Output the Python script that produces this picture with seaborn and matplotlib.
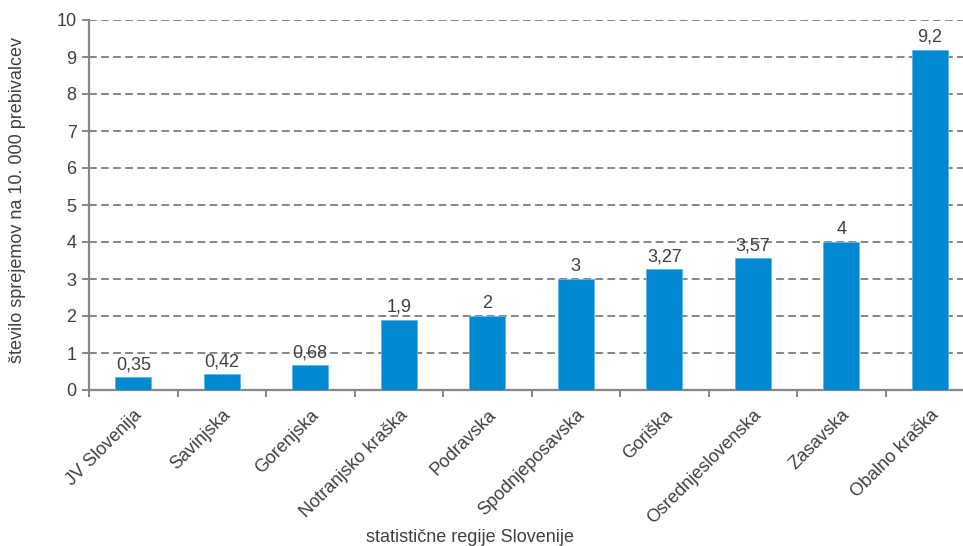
import matplotlib
matplotlib.use("Agg")
import matplotlib.pyplot as plt
from matplotlib.ticker import FixedLocator, NullFormatter
import seaborn as sns
import pandas as pd
import numpy as np

regions = ["JV Slovenija", "Savinjska", "Gorenjska", "Notranjsko kraška", "Podravska",
           "Spodnjeposavska", "Goriška", "Osrednjeslovenska", "Zasavska", "Obalno kraška"]
values = [0.35, 0.42, 0.68, 1.9, 2, 3, 3.27, 3.57, 4, 9.2]
value_labels = ["0,35", "0,42", "0,68", "1,9", "2", "3", "3,27", "3,57", "4", "9,2"]
y_ticks = list(range(0, 11))

sns.set_theme(style="white")
plt.rcParams["font.family"] = ["Liberation Sans", "DejaVu Sans"]

text_col = "#404040"
axis_col = "#868686"
bar_col = "#0089D0"
fs = 13

W, H = 963, 546
fig = plt.figure(figsize=(W / 100, H / 100), dpi=100)
ax = fig.add_axes([89 / W, 1 - 390 / H, (974 - 89) / W, (390 - 20) / H])

df = pd.DataFrame({"regija": regions, "vrednost": values})
sns.barplot(data=df, x="regija", y="vrednost", color=bar_col, saturation=1,
            width=0.41, ax=ax, edgecolor="#5DB8E8", linewidth=0.6, zorder=3)

ax.set_xlim(-0.5, len(regions) - 0.5)
ax.set_ylim(0, 10)
ax.set_yticks(y_ticks)
ax.set_yticklabels([str(t) for t in y_ticks], fontsize=fs, color=text_col)

# dashed horizontal gridlines
for t in y_ticks[1:]:
    ax.axhline(t, color=axis_col, linestyle=(0, (4, 2.2)), linewidth=1.4, zorder=1)

# category boundary ticks on x axis, labels centred under bars
ax.xaxis.set_major_locator(FixedLocator(np.arange(len(regions))))
ax.set_xticklabels(regions, rotation=45, ha="right", rotation_mode="anchor",
                   fontsize=fs, color=text_col)
ax.xaxis.set_minor_locator(FixedLocator(np.arange(len(regions) + 1) - 0.5))
ax.xaxis.set_minor_formatter(NullFormatter())
ax.tick_params(axis="x", which="major", length=0, pad=12)
ax.tick_params(axis="x", which="minor", length=5, width=1.4, color=axis_col, bottom=True)
ax.tick_params(axis="y", length=5, width=1.4, color=axis_col, left=True, pad=4)

for s in ["top", "right"]:
    ax.spines[s].set_visible(False)
for s in ["left", "bottom"]:
    ax.spines[s].set_color(axis_col)
    ax.spines[s].set_linewidth(1.6)

ax.set_xlabel("")
ax.set_ylabel("")
fig.text(18 / W, 1 - 200 / H, "število sprejemov na 10. 000 prebivalcev", rotation=90,
         ha="center", va="center", fontsize=fs, color=text_col)

for i, (v, lab) in enumerate(zip(values, value_labels)):
    ax.text(i, v + 0.1, lab, ha="center", va="bottom", fontsize=fs, color=text_col, zorder=4)

fig.text(470 / W, 1 - 537 / H, "statistične regije Slovenije", ha="center", va="center",
         fontsize=fs, color=text_col)

fig.savefig("out.png", dpi=100)
